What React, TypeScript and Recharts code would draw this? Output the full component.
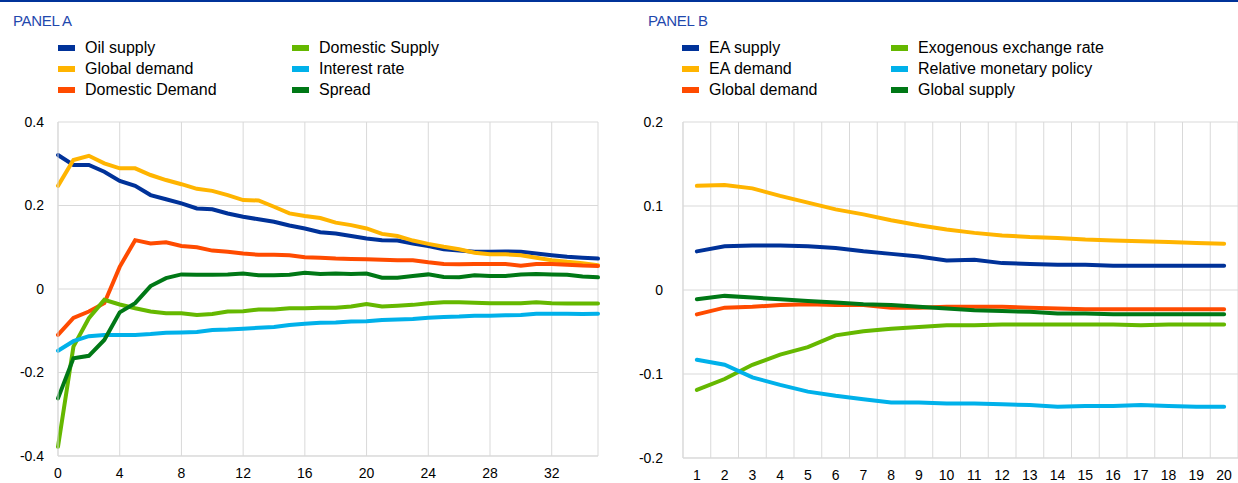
import { LineChart, Line, XAxis, YAxis, CartesianGrid, ReferenceLine } from 'recharts'

// Panel A: quarters after shock
const periodsA = [0, 1, 2, 3, 4, 5, 6, 7, 8, 9, 10, 11, 12, 13, 14, 15, 16, 17, 18, 19, 20, 21, 22, 23, 24, 25, 26, 27, 28, 29, 30, 31, 32, 33, 34, 35]
const ticksAX = [0, 4, 8, 12, 16, 20, 24, 28, 32]
const ticksAY = [-0.4, -0.2, 0, 0.2, 0.4]

const oilSupply = [0.321, 0.297, 0.297, 0.281, 0.259, 0.247, 0.225, 0.215, 0.205, 0.193, 0.191, 0.181, 0.173, 0.167, 0.161, 0.152, 0.145, 0.136, 0.133, 0.127, 0.121, 0.117, 0.116, 0.109, 0.103, 0.095, 0.092, 0.089, 0.089, 0.090, 0.089, 0.085, 0.081, 0.077, 0.075, 0.073]
const globalDemandA = [0.247, 0.309, 0.319, 0.301, 0.289, 0.289, 0.273, 0.261, 0.251, 0.240, 0.235, 0.225, 0.213, 0.212, 0.197, 0.181, 0.175, 0.170, 0.159, 0.153, 0.145, 0.132, 0.127, 0.116, 0.108, 0.101, 0.095, 0.087, 0.083, 0.083, 0.081, 0.075, 0.069, 0.065, 0.062, 0.057]
const domesticDemand = [-0.110, -0.069, -0.054, -0.034, 0.053, 0.117, 0.109, 0.112, 0.103, 0.100, 0.092, 0.089, 0.085, 0.082, 0.082, 0.081, 0.076, 0.075, 0.073, 0.072, 0.071, 0.070, 0.069, 0.069, 0.064, 0.060, 0.059, 0.060, 0.060, 0.060, 0.056, 0.060, 0.060, 0.058, 0.056, 0.055]
const domesticSupply = [-0.378, -0.138, -0.070, -0.026, -0.037, -0.046, -0.054, -0.058, -0.058, -0.062, -0.060, -0.054, -0.053, -0.049, -0.049, -0.046, -0.046, -0.045, -0.045, -0.042, -0.036, -0.042, -0.040, -0.038, -0.034, -0.032, -0.032, -0.033, -0.034, -0.034, -0.034, -0.032, -0.034, -0.035, -0.035, -0.035]
const interestRate = [-0.148, -0.125, -0.113, -0.110, -0.110, -0.110, -0.108, -0.105, -0.104, -0.103, -0.098, -0.097, -0.095, -0.093, -0.091, -0.086, -0.083, -0.081, -0.080, -0.078, -0.077, -0.074, -0.073, -0.072, -0.069, -0.067, -0.066, -0.064, -0.064, -0.063, -0.062, -0.059, -0.059, -0.059, -0.060, -0.059]
const spread = [-0.262, -0.166, -0.160, -0.122, -0.056, -0.034, 0.007, 0.026, 0.035, 0.034, 0.034, 0.035, 0.037, 0.033, 0.033, 0.034, 0.039, 0.036, 0.037, 0.036, 0.037, 0.027, 0.027, 0.031, 0.035, 0.029, 0.028, 0.033, 0.031, 0.031, 0.035, 0.036, 0.035, 0.034, 0.030, 0.028]

// Panel B: horizons 1..20
const periodsB = [1, 2, 3, 4, 5, 6, 7, 8, 9, 10, 11, 12, 13, 14, 15, 16, 17, 18, 19, 20]
const bandEdgesB = [0.5, 1.5, 2.5, 3.5, 4.5, 5.5, 6.5, 7.5, 8.5, 9.5, 10.5, 11.5, 12.5, 13.5, 14.5, 15.5, 16.5, 17.5, 18.5, 19.5, 20.5]
const ticksBY = [-0.2, -0.1, 0, 0.1, 0.2]

const eaSupply = [0.046, 0.052, 0.053, 0.053, 0.052, 0.050, 0.046, 0.043, 0.040, 0.035, 0.036, 0.032, 0.031, 0.030, 0.030, 0.029, 0.029, 0.029, 0.029, 0.029]
const eaDemand = [0.124, 0.125, 0.121, 0.112, 0.104, 0.096, 0.090, 0.083, 0.077, 0.072, 0.068, 0.065, 0.063, 0.062, 0.060, 0.059, 0.058, 0.057, 0.056, 0.055]
const globalDemandB = [-0.029, -0.021, -0.020, -0.018, -0.017, -0.018, -0.018, -0.021, -0.021, -0.020, -0.020, -0.020, -0.021, -0.022, -0.023, -0.023, -0.023, -0.023, -0.023, -0.023]
const exchangeRate = [-0.119, -0.106, -0.089, -0.077, -0.068, -0.054, -0.049, -0.046, -0.044, -0.042, -0.042, -0.041, -0.041, -0.041, -0.041, -0.041, -0.042, -0.041, -0.041, -0.041]
const monetaryPolicy = [-0.083, -0.089, -0.104, -0.113, -0.121, -0.126, -0.130, -0.134, -0.134, -0.135, -0.135, -0.136, -0.137, -0.139, -0.138, -0.138, -0.137, -0.138, -0.139, -0.139]
const globalSupply = [-0.011, -0.007, -0.009, -0.011, -0.013, -0.015, -0.017, -0.018, -0.020, -0.022, -0.024, -0.025, -0.026, -0.028, -0.028, -0.029, -0.029, -0.029, -0.029, -0.029]

const COLORS = ['#003299', '#ffb400', '#ff4b00', '#65b800', '#00b1ea', '#007816']
const FONT = '"Liberation Sans", Arial, sans-serif'
const GRID = '#d9d9d9'

const seriesA = [
  { key: 'oil', name: 'Oil supply', values: oilSupply },
  { key: 'gd', name: 'Global demand', values: globalDemandA },
  { key: 'dd', name: 'Domestic Demand', values: domesticDemand },
  { key: 'ds', name: 'Domestic Supply', values: domesticSupply },
  { key: 'ir', name: 'Interest rate', values: interestRate },
  { key: 'sp', name: 'Spread', values: spread },
]

const seriesB = [
  { key: 'eas', name: 'EA supply', values: eaSupply },
  { key: 'ead', name: 'EA demand', values: eaDemand },
  { key: 'gd', name: 'Global demand', values: globalDemandB },
  { key: 'xr', name: 'Exogenous exchange rate', values: exchangeRate },
  { key: 'mp', name: 'Relative monetary policy', values: monetaryPolicy },
  { key: 'gs', name: 'Global supply', values: globalSupply },
]

const dataA = periodsA.map((p, i) => {
  const row: any = { x: p }
  seriesA.forEach(s => { row[s.key] = s.values[i] })
  return row
})

const dataB = periodsB.map((p, i) => {
  const row: any = { x: p }
  seriesB.forEach(s => { row[s.key] = s.values[i] })
  return row
})

const tick = { fill: '#000', fontSize: 14, fontFamily: FONT }

function Legend({ series, left, col2 }: any) {
  return (
    <>
      {series.map((s: any, i: number) => (
        <div
          key={s.key}
          style={{
            position: 'absolute',
            left: i < 3 ? left : left + col2,
            top: 39 + (i % 3) * 21,
            height: 18,
            lineHeight: '18px',
            display: 'flex',
            alignItems: 'center',
            fontSize: 16,
            fontFamily: FONT,
            color: '#000',
            whiteSpace: 'nowrap',
          }}
        >
          <span style={{ display: 'inline-block', width: 17, height: 6, background: COLORS[i], marginRight: 10 }} />
          {s.name}
        </div>
      ))}
    </>
  )
}

export default function App() {
  return (
    <div style={{ position: 'absolute', left: 0, top: 0, width: 1238, height: 483, background: '#fff', overflow: 'hidden' }}>
      <div style={{ position: 'absolute', left: 0, top: 0, width: 1238, height: 2, background: '#003299' }} />
      <div style={{ position: 'absolute', left: 13, top: 12, fontSize: 15, fontFamily: FONT, color: '#1f48ad', letterSpacing: -0.3 }}>PANEL A</div>
      <div style={{ position: 'absolute', left: 648, top: 12, fontSize: 15, fontFamily: FONT, color: '#1f48ad', letterSpacing: -0.3 }}>PANEL B</div>
      <Legend series={seriesA} left={58} col2={234} />
      <Legend series={seriesB} left={682} col2={209} />

      <div style={{ position: 'absolute', left: 0, top: 0 }}>
        <LineChart width={610} height={483} data={dataA} margin={{ top: 122, right: 12, left: 0, bottom: 0 }}>
          <CartesianGrid stroke={GRID} strokeWidth={1} />
          <XAxis
            dataKey="x"
            type="number"
            domain={[0, 35]}
            ticks={ticksAX}
            interval={0}
            tick={tick}
            tickLine={false}
            tickMargin={6}
            axisLine={{ stroke: GRID }}
            height={27}
          />
          <YAxis
            type="number"
            domain={[-0.4, 0.4]}
            ticks={ticksAY}
            interval={0}
            tick={tick}
            tickLine={false}
            tickMargin={8}
            axisLine={{ stroke: GRID }}
            width={58}
          />
          {seriesA.map((s, i) => (
            <Line
              key={s.key}
              dataKey={s.key}
              type="linear"
              stroke={COLORS[i]}
              strokeWidth={4}
              strokeLinecap="round"
              dot={false}
              isAnimationActive={false}
            />
          ))}
        </LineChart>
      </div>

      <div style={{ position: 'absolute', left: 620, top: 0 }}>
        <LineChart width={618} height={483} data={dataB} margin={{ top: 122, right: 0, left: 0, bottom: 0 }}>
          <CartesianGrid stroke={GRID} strokeWidth={1} vertical={false} />
          {bandEdgesB.map(b => (
            <ReferenceLine key={b} x={b} stroke={GRID} strokeWidth={1} ifOverflow="extendDomain" />
          ))}
          <XAxis
            dataKey="x"
            type="number"
            domain={[0.5, 20.5]}
            ticks={periodsB}
            interval={0}
            tick={tick}
            tickLine={false}
            tickMargin={6}
            axisLine={{ stroke: GRID }}
            height={25}
          />
          <YAxis
            type="number"
            domain={[-0.2, 0.2]}
            ticks={ticksBY}
            interval={0}
            tick={tick}
            tickLine={false}
            tickMargin={14}
            axisLine={{ stroke: GRID }}
            width={63}
          />
          {seriesB.map((s, i) => (
            <Line
              key={s.key}
              dataKey={s.key}
              type="linear"
              stroke={COLORS[i]}
              strokeWidth={4}
              strokeLinecap="round"
              dot={false}
              isAnimationActive={false}
            />
          ))}
        </LineChart>
      </div>
    </div>
  )
}
